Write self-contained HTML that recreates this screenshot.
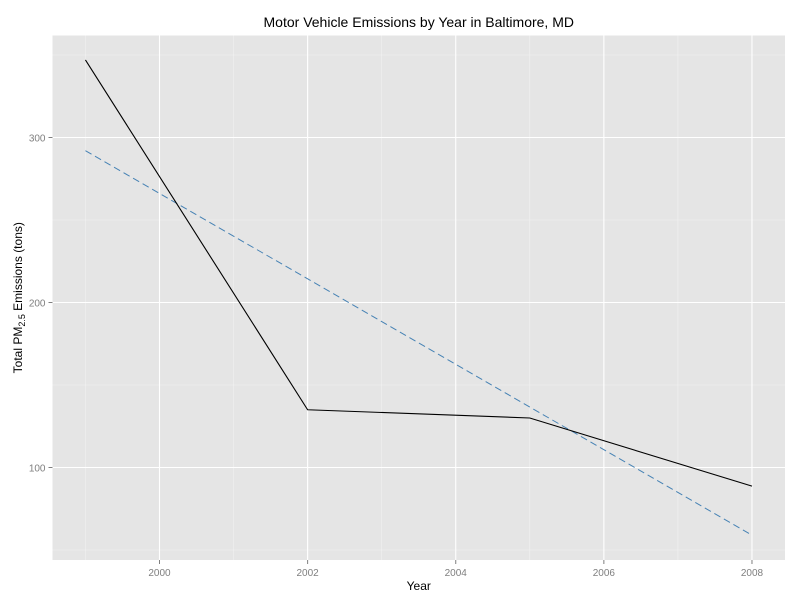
<!DOCTYPE html>
<html><head><meta charset="utf-8"><style>
body{margin:0;background:#fff;font-family:"Liberation Sans",Arial,sans-serif}
</style></head><body>
<svg id="c" width="800" height="600" xmlns="http://www.w3.org/2000/svg"></svg>
<script>
const years=[1999,2002,2005,2008];
const emissions=[347,135,130,88.7];
const fitStart=[1999,292];
const fitEnd=[2008,59];
const xTicks=[2000,2002,2004,2006,2008];
const yTicks=[100,200,300];
const NS="http://www.w3.org/2000/svg";
const svg=document.getElementById('c');
const L=52.5,R=785,T=35.5,B=560;
const x=v=>159.5+(v-2000)*74.06;
const y=v=>137.5-(v-300)*1.65;
function mk(t,a,p){const e=document.createElementNS(NS,t);for(const k in a)e.setAttribute(k,a[k]);(p||svg).appendChild(e);return e;}
const bg=mk('rect',{x:L,y:T,width:R-L,height:B-T,fill:'#e5e5e5'});


// minor grid
[50,150,250,350].forEach(v=>{const l=mk('line',{x1:L,x2:R,y1:y(v),y2:y(v),stroke:'#f2f2f2','stroke-width':0.6});

});
[1999,2001,2003,2005,2007].forEach(v=>{const l=mk('line',{x1:x(v),x2:x(v),y1:T,y2:B,stroke:'#f2f2f2','stroke-width':0.6});

});
yTicks.forEach(v=>{const l=mk('line',{x1:L,x2:R,y1:y(v),y2:y(v),stroke:'#fff','stroke-width':1.1});


mk('line',{x1:L-4,x2:L,y1:y(v),y2:y(v),stroke:'#7f7f7f'});
const t=mk('text',{x:L-7,y:y(v)+4,'text-anchor':'end','font-size':10,fill:'#7f7f7f'});t.textContent=v;

});
xTicks.forEach(v=>{const l=mk('line',{x1:x(v),x2:x(v),y1:T,y2:B,stroke:'#fff','stroke-width':1.1});


mk('line',{x1:x(v),x2:x(v),y1:B,y2:B+4,stroke:'#7f7f7f'});
const t=mk('text',{x:x(v),y:B+16,'text-anchor':'middle','font-size':10,fill:'#7f7f7f'});t.textContent=v;

});
const fit=mk('line',{x1:x(fitStart[0]),y1:y(fitStart[1]),x2:x(fitEnd[0]),y2:y(fitEnd[1]),stroke:'#4682b4','stroke-width':1,'stroke-dasharray':'7,4'});


const line=mk('polyline',{points:years.map((v,i)=>x(v)+','+y(emissions[i])).join(' '),fill:'none',stroke:'#000','stroke-width':1.1});


const title=mk('text',{x:(L+R)/2,y:27,'text-anchor':'middle','font-size':14,fill:'#000'});title.textContent='Motor Vehicle Emissions by Year in Baltimore, MD';


const xt=mk('text',{x:(L+R)/2,y:590,'text-anchor':'middle','font-size':12,fill:'#000'});xt.textContent='Year';


const yt=mk('text',{x:0,y:0,transform:'translate(22,' +((T+B)/2)+') rotate(-90)','text-anchor':'middle','font-size':12,fill:'#000'});
yt.innerHTML='Total PM<tspan font-size="9" dy="3">2.5</tspan><tspan dy="-3"> Emissions (tons)</tspan>';


</script>
</body></html>
